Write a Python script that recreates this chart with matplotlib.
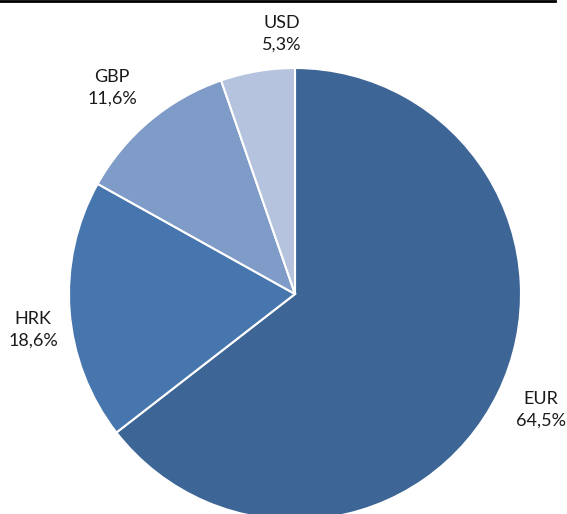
import matplotlib
matplotlib.use("Agg")
import matplotlib.pyplot as plt
from matplotlib.lines import Line2D

currencies = ['EUR', 'HRK', 'GBP', 'USD']
shares = [64.5, 18.6, 11.6, 5.3]
colors = ['#3d6595', '#4776ae', '#7f9bc7', '#b5c3de']

# label centres in pixels (from top-left)
label_pos = [(541, 410), (33, 330), (112, 88), (282, 34)]

W, H = 567, 514
fig = plt.figure(figsize=(W / 100, H / 100), dpi=100)
ax = fig.add_axes([0, 0, 1, 1])

ax.pie(shares, colors=colors, startangle=90, counterclock=False,
       center=(295, H - 294), radius=226,
       wedgeprops=dict(edgecolor='white', linewidth=1.5))

# pie() resets the limits, so set them afterwards
ax.set_xlim(0, W)
ax.set_ylim(0, H)
ax.set_aspect('equal')
ax.axis('off')

for cur, val, (px, py) in zip(currencies, shares, label_pos):
    ax.text(px, H - py, f"{cur}\n{val:.1f}%".replace('.', ','),
            ha='center', va='center', fontsize=13, family='Lato',
            linespacing=1.4, color='#1a1a1a')

fig.add_artist(Line2D([0, 555 / W], [1 - 1 / H, 1 - 1 / H],
                      transform=fig.transFigure, color='black', lw=2))

fig.savefig('out.png', dpi=100)
